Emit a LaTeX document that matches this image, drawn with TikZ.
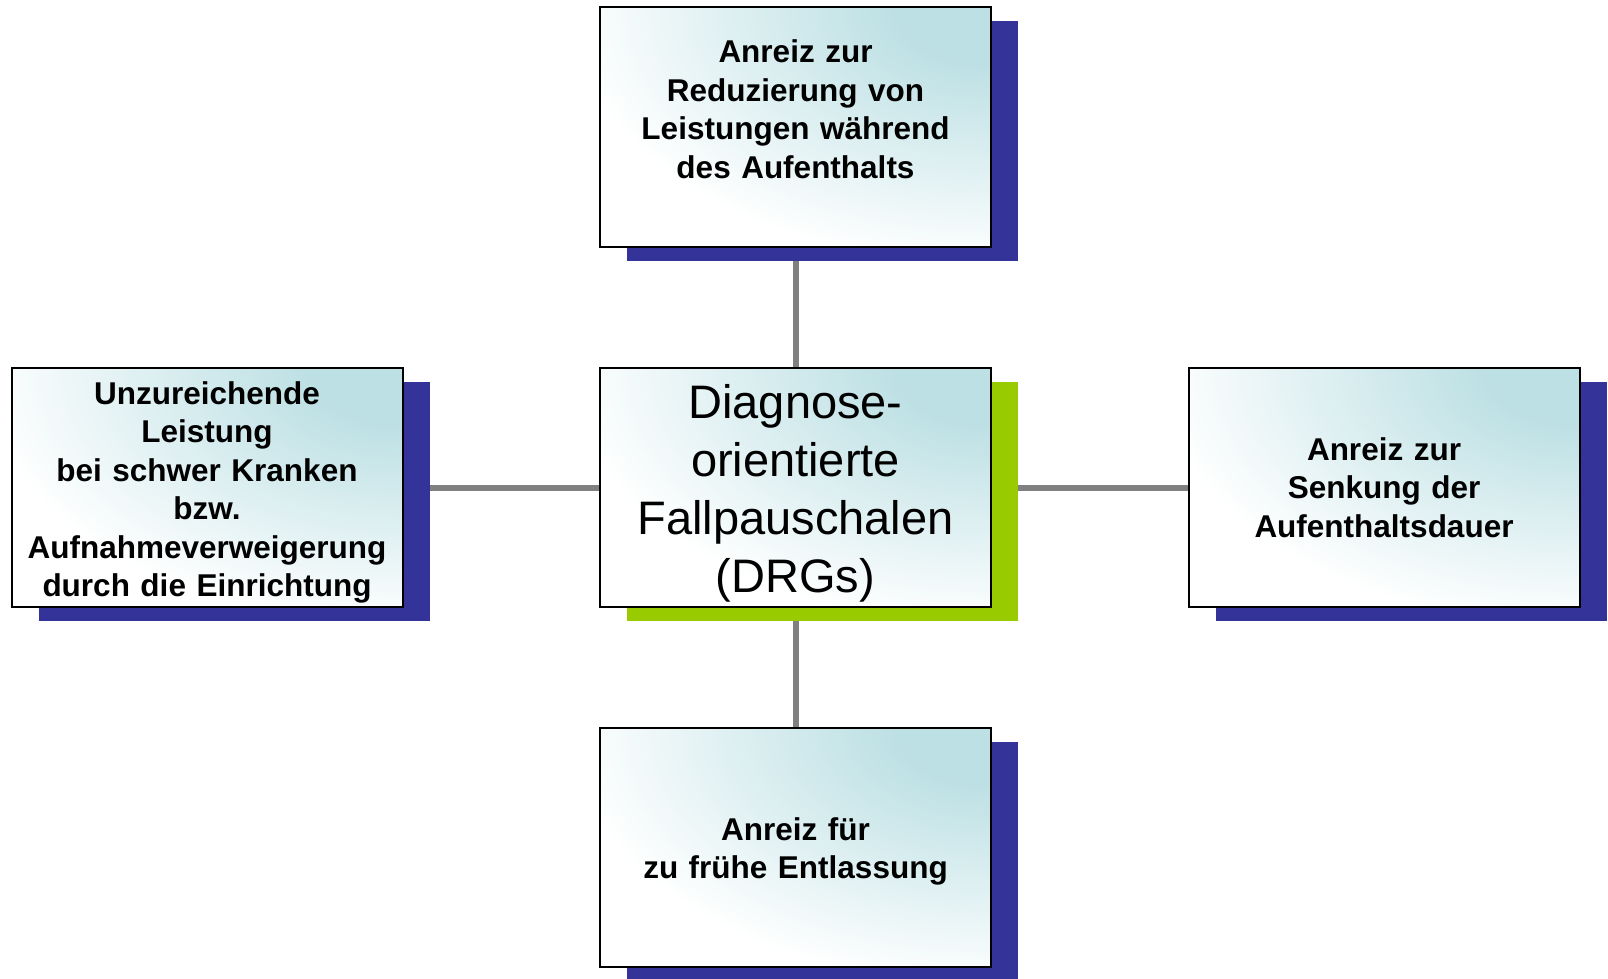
\documentclass[tikz,border=0pt]{standalone}
\usepackage{fontspec}
\setmainfont{Liberation Sans}
\usetikzlibrary{shadows,backgrounds}
\definecolor{shblue}{RGB}{51,51,153}
\definecolor{shgreen}{RGB}{153,204,0}
\definecolor{linegray}{RGB}{128,128,128}
\definecolor{boxteal}{RGB}{189,224,228}
\pgfdeclareradialshading{tealcorner}{\pgfpoint{0bp}{0bp}}{color(0bp)=(boxteal); color(6bp)=(boxteal); color(27bp)=(white); color(100bp)=(white)}
\tikzset{
  box/.style={rectangle, draw=black, line width=2pt, minimum width=391pt, minimum height=239pt,
    inner sep=0pt, fill=white, align=center, text width=385pt,
    font=\fontsize{31.5}{38.5}\selectfont\bfseries,
    path picture={\shade[shading=tealcorner]
      ([xshift=-391pt,yshift=-239pt]path picture bounding box.north east) rectangle
      ([xshift=391pt,yshift=239pt]path picture bounding box.north east);}},
  blueshadow/.style={drop shadow={shadow xshift=27pt, shadow yshift=-14pt, fill=shblue, opacity=1}},
  greenshadow/.style={drop shadow={shadow xshift=27pt, shadow yshift=-14pt, fill=shgreen, opacity=1}},
  conn/.style={draw=linegray, line width=6pt},
}
\begin{document}
\begin{tikzpicture}[x=1pt,y=-1pt]
\useasboundingbox (0,0) rectangle (1608,979);
\node[box, blueshadow] (top) at (795.5,127) {\rule{0pt}{26pt}Anreiz zur\\Reduzierung von\\Leistungen während\\des Aufenthalts\\\mbox{}};
\node[box, blueshadow] (left) at (207,487.5) {\rule{0pt}{33pt}Unzureichende\\Leistung\\bei schwer Kranken\\bzw.\\Aufnahmeverweigerung\\durch die Einrichtung};
\node[box, greenshadow, font=\fontsize{47}{58}\selectfont\mdseries] (ctr) at (795.5,487.5) {\rule{0pt}{46pt}Diagnose-\\orientierte\\Fallpauschalen\\(DRGs)};
\node[box, blueshadow] (right) at (1384,487.5) {Anreiz zur\\Senkung der\\Aufenthaltsdauer};
\node[box, blueshadow] (bottom) at (795.5,847.5) {\rule{0pt}{31pt}Anreiz für\\zu frühe Entlassung};
\begin{scope}[on background layer]
\draw[conn] (top.center) -- (ctr.center);
\draw[conn] (left.center) -- (ctr.center);
\draw[conn] (right.center) -- (ctr.center);
\draw[conn] (bottom.center) -- (ctr.center);
\end{scope}
\end{tikzpicture}
\end{document}
